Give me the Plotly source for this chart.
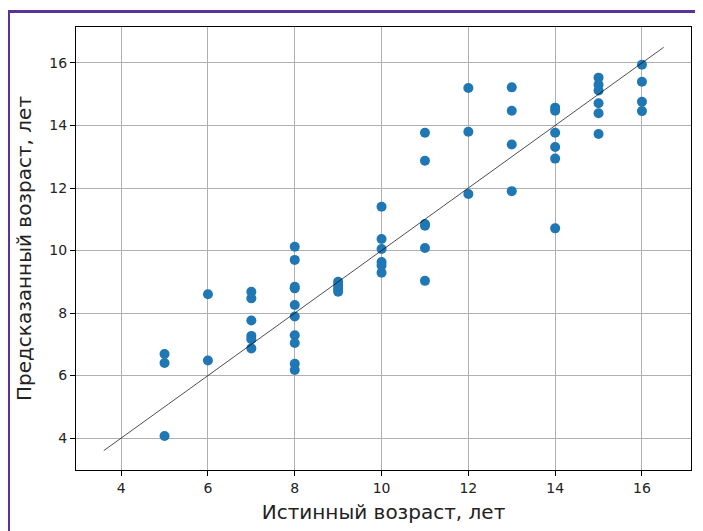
import plotly.graph_objects as go

true_age = (
    [5, 5, 5]
    + [6, 6]
    + [7] * 6
    + [8] * 10
    + [9] * 4
    + [10] * 6
    + [11] * 6
    + [12] * 3
    + [13] * 4
    + [14] * 6
    + [15] * 6
    + [16] * 4
)
pred_age = (
    [6.69, 6.40, 4.07]
    + [8.60, 6.48]
    + [8.68, 8.47, 7.76, 7.27, 7.16, 6.87]
    + [10.12, 9.70, 8.84, 8.79, 8.26, 7.89, 7.29, 7.04, 6.38, 6.18]
    + [9.00, 8.88, 8.78, 8.68]
    + [11.40, 10.37, 10.05, 9.63, 9.52, 9.29]
    + [13.77, 12.87, 10.85, 10.79, 10.08, 9.03]
    + [15.20, 13.80, 11.81]
    + [15.22, 14.47, 13.39, 11.90]
    + [14.57, 14.47, 13.77, 13.31, 12.94, 10.71]
    + [15.53, 15.30, 15.12, 14.71, 14.39, 13.73]
    + [15.94, 15.40, 14.76, 14.46]
)
ideal_line = [3.6, 16.5]
ticks = [4, 6, 8, 10, 12, 14, 16]

# page body has an 8px margin, so the figure starts at (8, 8) on screen
OFF = 8
W, H = 703, 531
ML, MR, MT, MB = 76 - OFF, 20, 27 - OFF, 69
pw, ph = W - ML - MR, H - MT - MB

fig = go.Figure()
fig.add_trace(go.Scatter(x=true_age, y=pred_age, mode="markers",
                         marker=dict(color="#1f77b4", size=10, line=dict(width=0)),
                         showlegend=False))
fig.add_trace(go.Scatter(x=ideal_line, y=ideal_line, mode="lines",
                         line=dict(color="black", width=0.7), showlegend=False))

axis_common = dict(
    showgrid=True, gridcolor="#b0b0b0", gridwidth=1,
    showline=True, linecolor="black", linewidth=1, mirror=True,
    ticks="outside", ticklen=5, tickcolor="black", tickwidth=1,
    tickvals=ticks, zeroline=False, automargin=False,
    tickfont=dict(family="DejaVu Sans", size=14, color="#222"),
)

fig.update_xaxes(range=[2.96, 17.13],
                 title=dict(text="Истинный возраст, лет",
                            font=dict(family="DejaVu Sans", size=20, color="#222"),
                            standoff=10),
                 **axis_common)
fig.update_yaxes(range=[2.98, 17.15],
                 title=dict(text="Предсказанный возраст, лет",
                            font=dict(family="DejaVu Sans", size=20, color="#222"),
                            standoff=12),
                 **axis_common)

# purple frame at left/top edges (screen x=8.5, y=11.5)
bx = (8.5 - OFF - ML) / pw
by = 1 + (MT - (11.5 - OFF)) / ph
fig.add_shape(type="path", xref="paper", yref="paper",
              path=f"M {bx},-0.3 L {bx},{by} L 1.2,{by}",
              line=dict(color="#5b3396", width=3), layer="above")

fig.update_layout(
    width=W, height=H,
    margin=dict(l=ML, r=MR, t=MT, b=MB),
    plot_bgcolor="white", paper_bgcolor="white",
    font=dict(family="DejaVu Sans"),
)
fig.write_html("out.html")
